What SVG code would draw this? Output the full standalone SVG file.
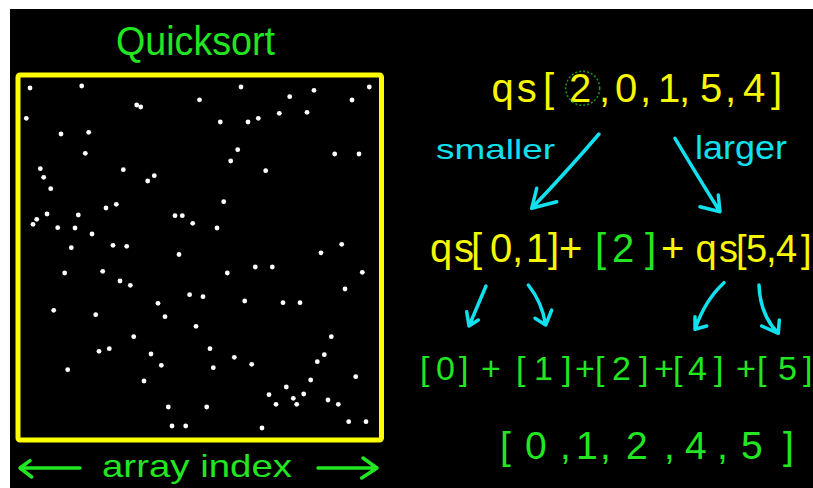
<svg xmlns="http://www.w3.org/2000/svg" width="813" height="488" viewBox="0 0 813 488">
<style>
.t{font-family:"Liberation Sans",Arial,sans-serif}
.g{fill:#22e622}
.y{fill:#f7f700}
.c{fill:#11e0ee}
.dot{fill:#ffffff}
.arr{fill:none;stroke:#11e0ee;stroke-width:3.5;stroke-linecap:round;stroke-linejoin:round}
.garr{fill:none;stroke:#22e622;stroke-width:3.5;stroke-linecap:round;stroke-linejoin:round}
</style>
<rect x="0" y="0" width="813" height="488" fill="#ffffff"/>
<rect x="10" y="9" width="803" height="479" fill="#000000"/>
<g id="title"><text class="t g" x="116" y="55" font-size="40" textLength="159" lengthAdjust="spacingAndGlyphs">Quicksort</text></g>
<g id="plot">
<rect x="18" y="75" width="363.5" height="365" fill="none" stroke="#ffff00" stroke-width="5" rx="2"/>
<g id="dots">
<circle class="dot" r="2.4" cx="30" cy="88"/><circle class="dot" r="2.4" cx="81.7" cy="86"/><circle class="dot" r="2.4" cx="136.7" cy="105"/><circle class="dot" r="2.4" cx="140.7" cy="107"/><circle class="dot" r="2.4" cx="199.5" cy="99.8"/><circle class="dot" r="2.4" cx="26.3" cy="118.3"/><circle class="dot" r="2.4" cx="61" cy="134"/><circle class="dot" r="2.4" cx="88.7" cy="132.3"/><circle class="dot" r="2.4" cx="85.3" cy="153.3"/><circle class="dot" r="2.4" cx="40.3" cy="168.7"/><circle class="dot" r="2.4" cx="43.7" cy="177.3"/><circle class="dot" r="2.4" cx="123.3" cy="169.7"/><circle class="dot" r="2.4" cx="154.3" cy="175.7"/><circle class="dot" r="2.4" cx="147.7" cy="181"/><circle class="dot" r="2.4" cx="50.7" cy="188.7"/><circle class="dot" r="2.4" cx="106" cy="208"/><circle class="dot" r="2.4" cx="116.3" cy="204.3"/><circle class="dot" r="2.4" cx="47" cy="214"/><circle class="dot" r="2.4" cx="78.3" cy="215"/><circle class="dot" r="2.4" cx="36.7" cy="219.3"/><circle class="dot" r="2.4" cx="33" cy="224.3"/><circle class="dot" r="2.4" cx="57.7" cy="227.7"/><circle class="dot" r="2.4" cx="75" cy="228"/><circle class="dot" r="2.4" cx="175" cy="215.7"/><circle class="dot" r="2.4" cx="182.3" cy="215.7"/><circle class="dot" r="2.4" cx="192.7" cy="223.3"/><circle class="dot" r="2.4" cx="92" cy="234"/><circle class="dot" r="2.4" cx="71.3" cy="247.7"/><circle class="dot" r="2.4" cx="113" cy="245.3"/><circle class="dot" r="2.4" cx="126.7" cy="246.3"/><circle class="dot" r="2.4" cx="179" cy="254.5"/>
<circle class="dot" r="2.4" cx="241" cy="87"/><circle class="dot" r="2.4" cx="314" cy="90.3"/><circle class="dot" r="2.4" cx="289.7" cy="96.7"/><circle class="dot" r="2.4" cx="369.3" cy="87"/><circle class="dot" r="2.4" cx="352" cy="100"/><circle class="dot" r="2.4" cx="220.3" cy="122"/><circle class="dot" r="2.4" cx="248" cy="122"/><circle class="dot" r="2.4" cx="258.3" cy="118.3"/><circle class="dot" r="2.4" cx="279.3" cy="113.3"/><circle class="dot" r="2.4" cx="307" cy="112.3"/><circle class="dot" r="2.4" cx="237.7" cy="149.7"/><circle class="dot" r="2.4" cx="230.7" cy="161"/><circle class="dot" r="2.4" cx="334.7" cy="154"/><circle class="dot" r="2.4" cx="359" cy="154"/><circle class="dot" r="2.4" cx="265.7" cy="170.7"/><circle class="dot" r="2.4" cx="223.7" cy="201.7"/><circle class="dot" r="2.4" cx="217" cy="228"/><circle class="dot" r="2.4" cx="341.7" cy="244.3"/><circle class="dot" r="2.4" cx="321" cy="252.8"/>
<circle class="dot" r="2.4" cx="64.7" cy="273"/><circle class="dot" r="2.4" cx="102.7" cy="271.3"/><circle class="dot" r="2.4" cx="120" cy="281"/><circle class="dot" r="2.4" cx="130.3" cy="285.3"/><circle class="dot" r="2.4" cx="189.6" cy="294.7"/><circle class="dot" r="2.4" cx="158" cy="303.3"/><circle class="dot" r="2.4" cx="53.7" cy="310.3"/><circle class="dot" r="2.4" cx="95.7" cy="314.7"/><circle class="dot" r="2.4" cx="165" cy="316.7"/><circle class="dot" r="2.4" cx="196" cy="326.3"/><circle class="dot" r="2.4" cx="133.7" cy="336.7"/><circle class="dot" r="2.4" cx="99" cy="351.3"/><circle class="dot" r="2.4" cx="109.3" cy="348.7"/><circle class="dot" r="2.4" cx="151" cy="354"/><circle class="dot" r="2.4" cx="161.3" cy="365.3"/><circle class="dot" r="2.4" cx="67.7" cy="369.7"/><circle class="dot" r="2.4" cx="144" cy="381"/><circle class="dot" r="2.4" cx="168.3" cy="407"/><circle class="dot" r="2.4" cx="172" cy="426"/><circle class="dot" r="2.4" cx="185.7" cy="426"/>
<circle class="dot" r="2.4" cx="255.3" cy="267"/><circle class="dot" r="2.4" cx="272.3" cy="267"/><circle class="dot" r="2.4" cx="227.3" cy="273"/><circle class="dot" r="2.4" cx="362.3" cy="272.3"/><circle class="dot" r="2.4" cx="345" cy="289"/><circle class="dot" r="2.4" cx="203" cy="296.7"/><circle class="dot" r="2.4" cx="244.7" cy="301"/><circle class="dot" r="2.4" cx="283" cy="302.7"/><circle class="dot" r="2.4" cx="300" cy="302.7"/><circle class="dot" r="2.4" cx="331.3" cy="336.7"/><circle class="dot" r="2.4" cx="210" cy="348.7"/><circle class="dot" r="2.4" cx="234.3" cy="357.3"/><circle class="dot" r="2.4" cx="324.3" cy="354.7"/><circle class="dot" r="2.4" cx="317.3" cy="361.7"/><circle class="dot" r="2.4" cx="213.3" cy="367.7"/><circle class="dot" r="2.4" cx="251.7" cy="364.3"/><circle class="dot" r="2.4" cx="355.7" cy="376.7"/><circle class="dot" r="2.4" cx="310.7" cy="380"/><circle class="dot" r="2.4" cx="286.3" cy="387"/><circle class="dot" r="2.4" cx="269" cy="394.7"/><circle class="dot" r="2.4" cx="303.7" cy="394"/><circle class="dot" r="2.4" cx="293.3" cy="398.3"/><circle class="dot" r="2.4" cx="276" cy="404.3"/><circle class="dot" r="2.4" cx="296.7" cy="404.3"/><circle class="dot" r="2.4" cx="328" cy="400"/><circle class="dot" r="2.4" cx="338.3" cy="404.3"/><circle class="dot" r="2.4" cx="206.7" cy="407"/><circle class="dot" r="2.4" cx="348.7" cy="421.7"/><circle class="dot" r="2.4" cx="366" cy="421.7"/><circle class="dot" r="2.4" cx="262" cy="428"/>
</g>
</g>
<g id="axis-label"><text class="t g" x="102" y="476.7" font-size="32" textLength="190" lengthAdjust="spacingAndGlyphs">array index</text></g>
<g id="row1"><text class="t y" y="102" font-size="40" x="491.5 516.8 543 569 599 615 640 658 679 700 725 743 771">qs[2,0,1,5,4]</text></g>
<g id="label-smaller"><text class="t c" x="436" y="159" font-size="28" textLength="119" lengthAdjust="spacingAndGlyphs">smaller</text></g>
<g id="label-larger"><text class="t c" x="695" y="159" font-size="33" textLength="92" lengthAdjust="spacingAndGlyphs">larger</text></g>
<g id="row2">
<text class="t y" y="262" font-size="40" x="430 454 471 490 512 526 548">qs[0,1]</text>
<text class="t y" y="262" font-size="40" x="559">+</text>
<text class="t g" y="262" font-size="40" x="595 612 645">[2]</text>
<text class="t y" y="262" font-size="40" x="661">+</text>
<text class="t y" y="262" font-size="38" x="695.5 719 736 746 766 776 801">qs[5,4]</text>
</g>
<g id="row3"><text class="t g" y="380" font-size="34" x="420 436 459 472 481 505 516 534 562 575 595 612 639 654 673 688 714 730 736 757 778 803">[0] + [1]+[2]+[4] +[5]</text></g>
<g id="result"><text class="t g" y="459" font-size="39" x="500 525 560 570 576 600 612 626 664 675 685 717 730 741 783">[0, 1, 2, 4, 5]</text></g>
<g id="connectors">
<circle cx="582.7" cy="88.3" r="17" fill="none" stroke="#1a9a1a" stroke-width="1.5" stroke-dasharray="2 2"/>
<path class="arr" d="M599 134 Q570 168 531.7 208.3 M536.7 188.3 L531.7 208.3 L556.7 201.7"/>
<path class="arr" d="M675 138.3 Q700 180 720 211.7 M718.3 195 L720 211.7 L700 206.7"/>
<path class="arr" d="M486 286 L469 326 M466.7 311.7 L469 326 L478.3 320"/>
<path class="arr" d="M528.3 285 Q542 302 545.7 325 M535 318.3 L545.7 325 L551.7 310"/>
<path class="arr" d="M724 282.7 Q705 300 695 329.3 M695 316.7 L695 329.3 L706.7 326"/>
<path class="arr" d="M759 285 Q760 315 778.3 333.3 M761.7 326 L778.3 333.3 L779.3 320"/>
<path class="garr" d="M80 468 L20 468 M30 460.7 L20 468 L31.7 477"/>
<path class="garr" d="M318 468 L377 468 M363 458 L377 468 L361.7 478"/>
</g>
</svg>
